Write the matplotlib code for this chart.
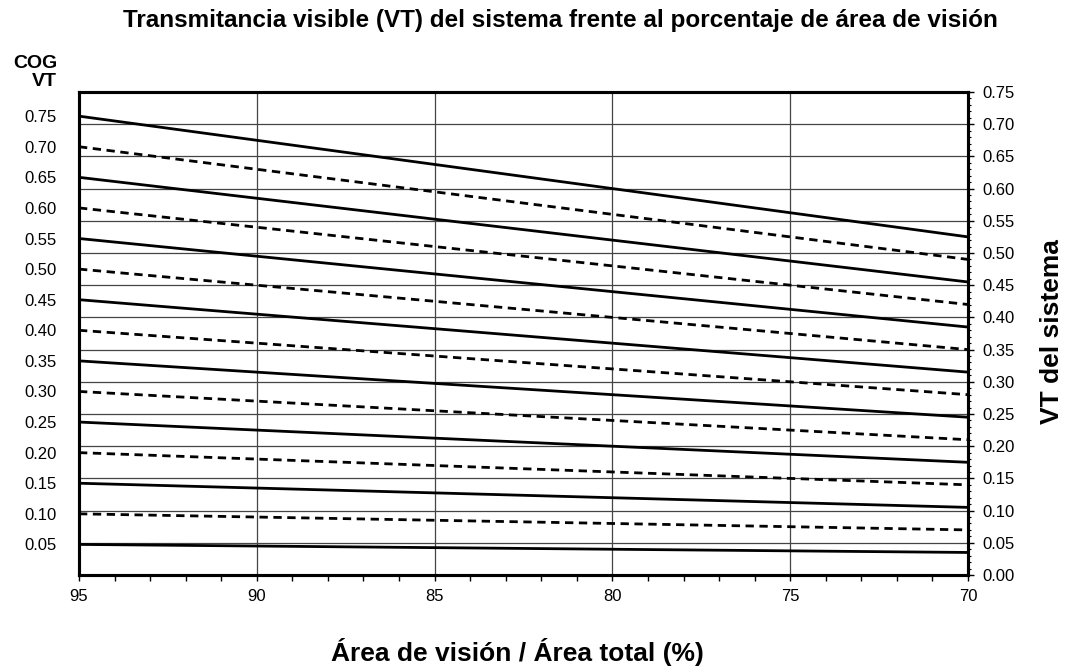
import matplotlib
matplotlib.use("Agg")
import matplotlib.pyplot as plt
from matplotlib.ticker import MultipleLocator

plt.rcParams['font.family'] = ['Liberation Sans', 'DejaVu Sans']

# COG VT de cada curva
cog_vt = [0.05, 0.10, 0.15, 0.20, 0.25, 0.30, 0.35, 0.40, 0.45, 0.50, 0.55, 0.60, 0.65, 0.70, 0.75]
cog_labels = ['0.05', '0.10', '0.15', '0.20', '0.25', '0.30', '0.35', '0.40', '0.45', '0.50',
              '0.55', '0.60', '0.65', '0.70', '0.75']
# % area de vision (extremos de cada recta)
area = [95, 70]
# VT del sistema en area 95 y area 70
vt_95 = [0.0475, 0.095, 0.1425, 0.19, 0.2375, 0.285, 0.3325, 0.38, 0.4275, 0.475,
         0.5225, 0.57, 0.6175, 0.665, 0.7125]
vt_70 = [0.035, 0.07, 0.105, 0.14, 0.175, 0.21, 0.245, 0.28, 0.315, 0.35,
         0.385, 0.42, 0.455, 0.49, 0.525]
styles = ['-', '--'] * 7 + ['-']

fig = plt.figure(figsize=(10.7, 6.69), dpi=100, facecolor='white')
ax = fig.add_axes([0.0738, 0.1405, 0.8309, 0.722])

for i in range(len(cog_vt)):
    ax.plot(area, [vt_95[i], vt_70[i]], color='black', lw=2.0, ls=styles[i],
            dashes=(3, 2) if styles[i] == '--' else (None, None), solid_capstyle='butt', zorder=3)

ax.set_xlim(95, 70)
ax.set_ylim(0, 0.75)

# eje izquierdo: etiquetas COG VT en el arranque de cada recta
ax.set_yticks(vt_95, cog_labels)
ax.tick_params(axis='y', length=0, labelsize=12, pad=16)

ax.xaxis.set_minor_locator(MultipleLocator(1))
ax.set_xticks([95, 90, 85, 80, 75, 70], ['95', '90', '85', '80', '75', '70'])
ax.tick_params(axis='x', which='both', direction='out', length=4, width=1, labelsize=12, pad=6)

# eje derecho: VT del sistema
ax2 = ax.twinx()
ax2.set_ylim(0, 0.75)
ax2.yaxis.set_minor_locator(MultipleLocator(0.01))
ax2.set_yticks([0.05 * k for k in range(16)], ['%.2f' % (0.05 * k) for k in range(16)])
ax2.tick_params(axis='y', which='major', direction='out', length=4, width=1, labelsize=12, pad=6)
ax2.tick_params(axis='y', which='minor', direction='out', length=2.5, width=0.8)

# rejilla
for v in [0.05 * k for k in range(1, 15)]:
    ax.axhline(v, color='#444444', lw=0.9, zorder=1)
for v in [90, 85, 80, 75]:
    ax.axvline(v, color='#444444', lw=0.9, zorder=1)

for a in (ax, ax2):
    for s in a.spines.values():
        s.set_linewidth(2.2)
        s.set_color('black')

fig.text(0.524, 0.970, 'Transmitancia visible (VT) del sistema frente al porcentaje de área de visión',
         ha='center', va='center', fontsize=17.5, fontweight='bold')
fig.text(0.0535, 0.892, 'COG\nVT', ha='right', va='center', fontsize=14, fontweight='bold',
         multialignment='right', linespacing=1.05)
fig.text(0.484, 0.026, 'Área de visión / Área total (%)', ha='center', va='center',
         fontsize=19, fontweight='bold')
fig.text(0.983, 0.505, 'VT del sistema', ha='center', va='center', rotation=90,
         fontsize=19, fontweight='bold')

fig.savefig('out.png', dpi=100)
